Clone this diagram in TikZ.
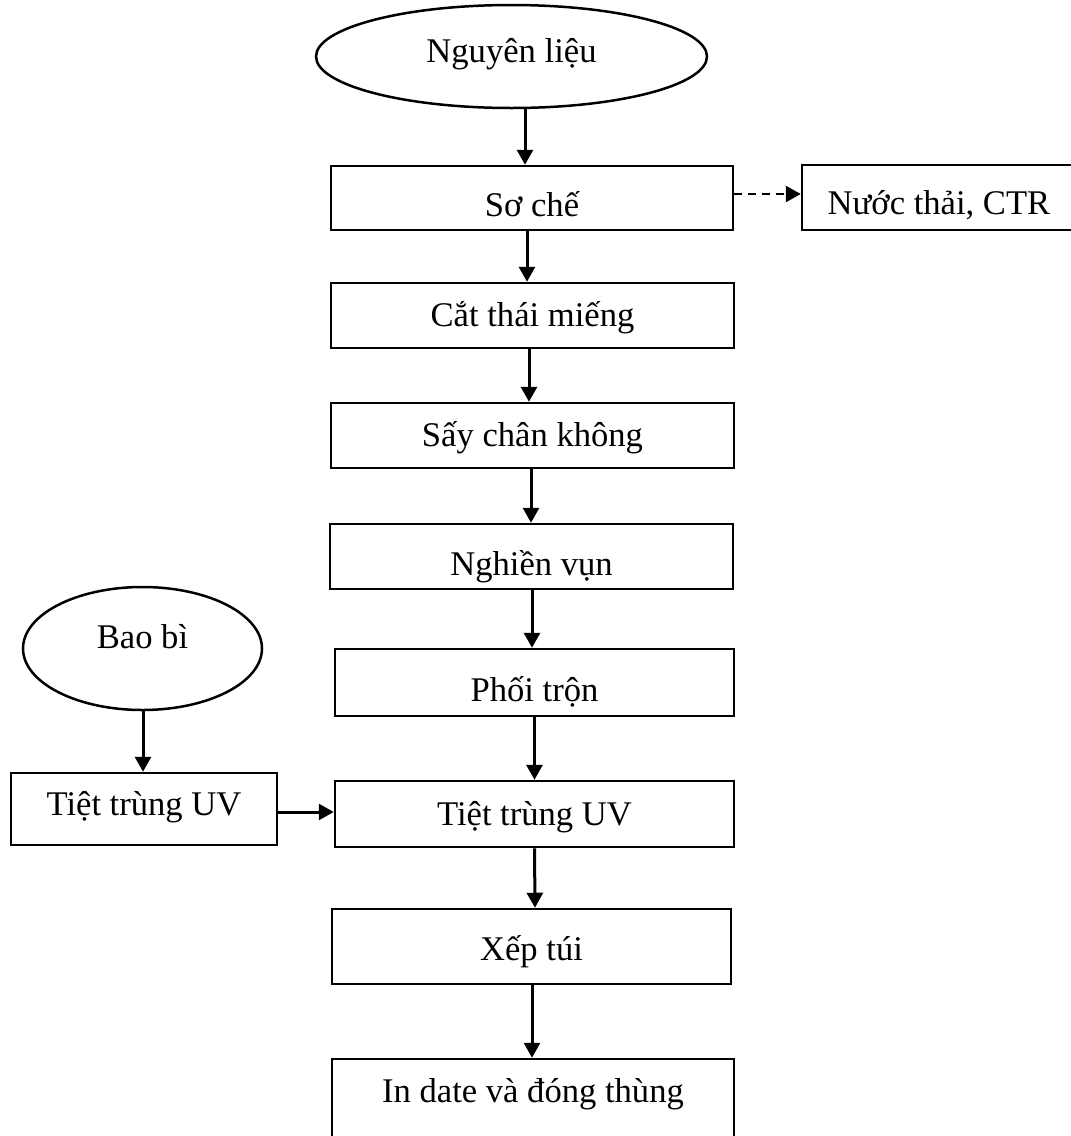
\documentclass[tikz,border=0pt]{standalone}
\usepackage{fontspec}
\setmainfont{Liberation Serif}
\usetikzlibrary{shapes.geometric,arrows.meta}
\begin{document}
\begin{tikzpicture}[x=1pt,y=-1pt,
  every node/.style={font=\fontsize{34.6}{40}\selectfont, inner sep=0pt,
                     text height=22.7pt, text depth=0pt},
  box/.style={draw, line width=2.5pt, rectangle},
  oval/.style={draw, line width=2.5pt, ellipse},
  arr/.style={line width=3pt, -{Triangle[length=15pt,width=16pt]}},
  dasharr/.style={arr, line width=2.7pt, dash pattern=on 8pt off 6pt}
]
% page area
\fill[white] (0,0) rectangle (1071,1136);
\useasboundingbox (0,0) rectangle (1071,1136);

% main process line
\node[oval, minimum width=391pt, minimum height=103pt, text depth=11pt] (nl) at (511.5,56.5) {Nguyên liệu};
\node[box, minimum width=402pt, minimum height=64pt, text height=36.7pt] (soche) at (532,198) {Sơ chế};
\node[box, minimum width=403pt, minimum height=65pt] (cat) at (532.5,315.5) {Cắt thái miếng};
\node[box, minimum width=403pt, minimum height=65pt] (say) at (532.5,435.5) {Sấy chân không};
\node[box, minimum width=403pt, minimum height=65pt, text height=38.7pt] (nghien) at (531.5,556.5) {Nghiền vụn};
\node[box, minimum width=399pt, minimum height=67pt, text height=38.7pt] (phoi) at (534.5,682.5) {Phối trộn};
\node[box, minimum width=399pt, minimum height=66pt] (tiet) at (534.5,814) {Tiệt trùng UV};
\node[box, minimum width=399pt, minimum height=75pt, text height=28.7pt] (xep) at (531.5,946.5) {Xếp túi};
\node[box, minimum width=402pt, minimum height=83pt, text depth=19pt] (indate) at (533,1100.5) {In date và đóng thùng};

% waste output
\node[box, minimum width=274pt, minimum height=65pt, text height=34.7pt] (nuoc) at (939,197.5) {Nước thải, CTR};

% packaging branch
\node[oval, minimum width=239pt, minimum height=123pt, text depth=22pt] (baobi) at (142.5,648.5) {Bao bì};
\node[box, minimum width=266pt, minimum height=72pt, text depth=10pt] (tietL) at (144,809) {Tiệt trùng UV};

% connectors
\draw[arr] ([xshift=13.5pt]nl.south) -- ([xshift=-7pt]soche.north);
\draw[arr] ([xshift=-5pt]soche.south) -- ([xshift=-5.5pt]cat.north);
\draw[arr] ([xshift=-3.5pt]cat.south) -- ([xshift=-3.5pt]say.north);
\draw[arr] ([xshift=-1.5pt]say.south) -- ([xshift=-0.5pt]nghien.north);
\draw[arr] ([xshift=0.5pt]nghien.south) -- ([xshift=-2.5pt]phoi.north);
\draw[arr] (phoi.south) -- (tiet.north);
\draw[arr] (tiet.south) -- ([xshift=3.5pt]xep.north);
\draw[arr] ([xshift=0.5pt]xep.south) -- ([xshift=-1pt]indate.north);
\draw[dasharr] ([yshift=4pt]soche.east) -- ([yshift=3.5pt]nuoc.west);
\draw[arr] ([xshift=0.5pt]baobi.south) -- ([xshift=-1pt]tietL.north);
\draw[arr] ([yshift=-3pt]tietL.east) -- ([yshift=2pt]tiet.west);
\end{tikzpicture}
\end{document}
